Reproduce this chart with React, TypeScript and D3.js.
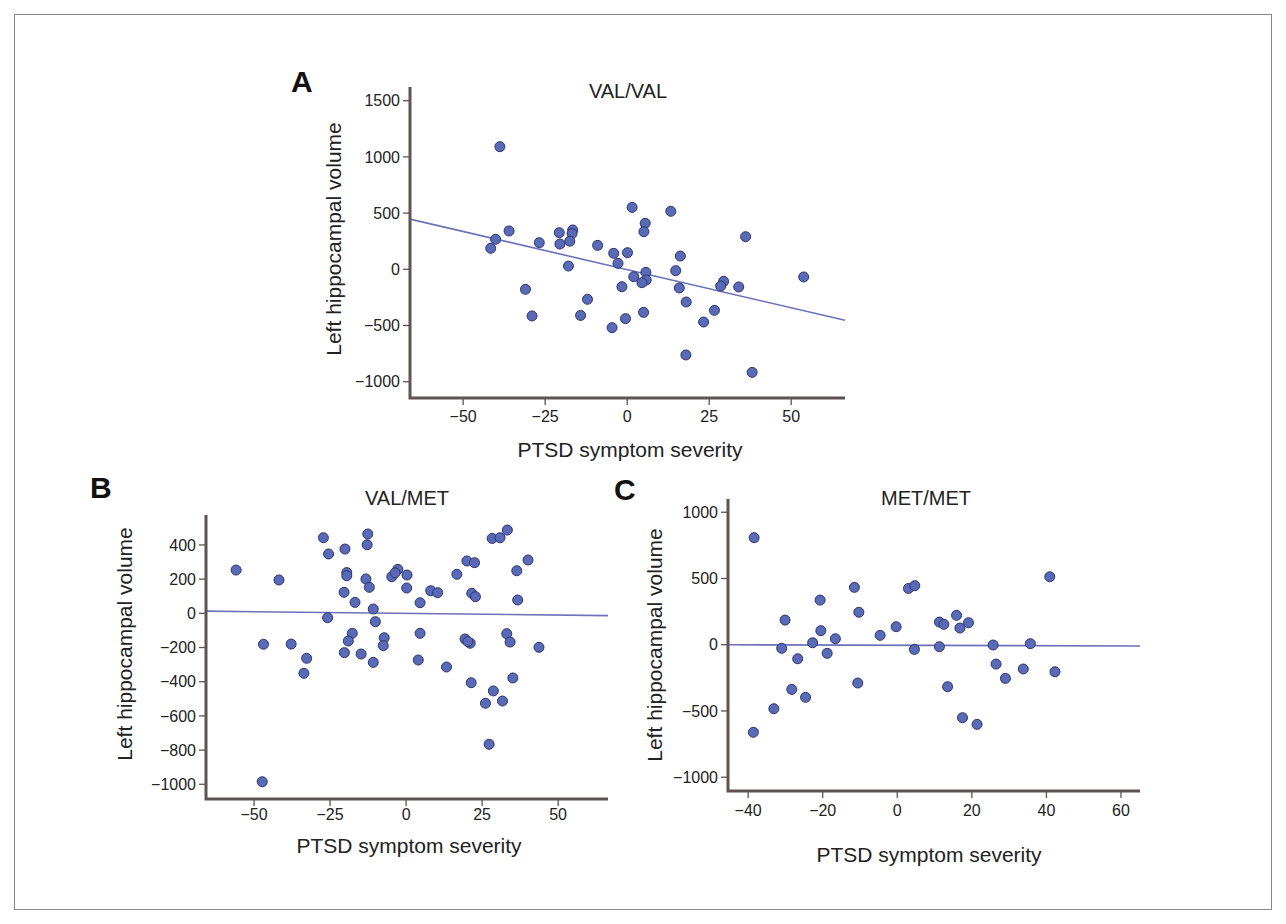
import React from 'react';
import * as d3 from 'd3';

// panel A: VAL/VAL
const valValX = [-38.8, -36.0, -40.1, -41.6, -26.8, -20.7, -20.5, -16.6, -16.8, -17.5, -17.9, -31, -29, -14.2, -9.0, -12.1, -4.1, -2.8, 0.1, 1.5, -1.6, -4.6, -0.5, 2.0, 5.5, 5.1, 5.7, 5.8, 4.5, 5.0, 13.3, 16.2, 14.8, 15.9, 18.0, 17.9, 23.3, 26.6, 29.4, 28.5, 34.0, 36.1, 38.1, 53.8];
const valValY = [1091, 341, 267, 187, 237, 326, 225, 350, 318, 250, 29, -178, -415, -410, 213, -267, 142, 53, 148, 551, -155, -519, -439, -66, 409, 335, -27, -95, -119, -383, 516, 118, -12, -166, -291, -762, -469, -365, -107, -149, -157, 290, -917, -68];
const valValFit = [-3, -6.79]; // intercept, slope

// panel B: VAL/MET
const valMetX = [-55.9, -41.8, -46.9, -37.8, -32.7, -33.6, -47.3, -27.2, -25.5, -25.8, -20.1, -19.5, -19.5, -20.4, -16.8, -17.7, -19.0, -20.3, -14.8, -12.6, -12.8, -13.2, -12.1, -10.8, -10.1, -10.8, -7.2, -7.5, -4.7, -2.7, -3.6, 0.3, 0.2, 4.6, 4.6, 4.0, 8.1, 10.4, 13.3, 16.7, 20.0, 22.5, 21.6, 22.8, 19.4, 21.1, 20.3, 21.4, 26.1, 28.7, 31.7, 27.3, 28.3, 30.9, 33.3, 36.4, 36.7, 40.1, 33.1, 34.2, 35.1, 43.7];
const valMetY = [253, 195, -181, -180, -263, -351, -985, 442, 347, -26, 376, 238, 220, 123, 64, -117, -162, -230, -238, 464, 401, 201, 152, 25, -49, -287, -143, -189, 214, 257, 237, 224, 148, 62, -117, -273, 132, 121, -314, 228, 306, 296, 117, 97, -150, -175, -165, -406, -526, -454, -513, -766, 438, 442, 487, 249, 78, 312, -119, -168, -378, -199];
const valMetFit = [-0.5, -0.2];

// panel C: MET/MET
const metMetX = [-38.4, -38.6, -33.1, -31.0, -30.1, -28.3, -26.7, -24.6, -22.7, -20.7, -20.5, -18.8, -16.6, -11.5, -10.3, -10.6, -4.6, -0.3, 3.0, 4.7, 4.6, 11.3, 12.5, 11.3, 15.9, 16.8, 19.1, 13.5, 17.5, 21.4, 25.7, 26.5, 29.0, 33.8, 35.7, 40.9, 42.3];
const metMetY = [808, -661, -483, -27, 186, -337, -106, -397, 15, 337, 106, -65, 45, 433, 245, -289, 71, 136, 425, 446, -35, 171, 154, -15, 222, 126, 166, -317, -551, -601, -2, -146, -254, -183, 8, 513, -204];
const metMetFit = [-4.1, -0.09];

const xTicksAB = [-50, -25, 0, 25, 50];
const xTicksC = [-40, -20, 0, 20, 40, 60];
const yTicksA = [1500, 1000, 500, 0, -500, -1000];
const yTicksB = [400, 200, 0, -200, -400, -600, -800, -1000];
const yTicksC = [1000, 500, 0, -500, -1000];

const FONT = '"Liberation Sans", Arial, Helvetica, sans-serif';
const AXIS = '#5e5350';
const DOT = '#5b6ab6';
const DOT_EDGE = '#2b3572';
const FIT = '#6c71b8';

const fmt = (v: number) => (v < 0 ? '\u2212' + Math.abs(v) : String(v));

interface PanelProps {
  letter: string;
  title: string;
  xs: number[];
  ys: number[];
  fit: number[];
  xDomain: [number, number];
  yDomain: [number, number];
  xTicks: number[];
  yTicks: number[];
  box: { l: number; r: number; t: number; b: number };
  letterPos: [number, number];
  titlePos: [number, number];
  xLabelPos: [number, number];
  yLabelPos: [number, number];
  tickLabelDy: number;
}

const Panel = (p: PanelProps) => {
  const x = d3.scaleLinear().domain(p.xDomain).range([p.box.l, p.box.r]);
  const y = d3.scaleLinear().domain(p.yDomain).range([p.box.b, p.box.t]);
  const [a, b] = p.fit;
  const fitLine = d3
    .line<number>()
    .x((d) => x(d))
    .y((d) => y(a + b * d));

  return (
    <g>
      <text x={p.letterPos[0]} y={p.letterPos[1]} fontSize={30} fontWeight="bold" fill="#111">
        {p.letter}
      </text>
      <text x={p.titlePos[0]} y={p.titlePos[1]} fontSize={20} textAnchor="middle" fill="#222">
        {p.title}
      </text>

      {/* fit line */}
      <path d={fitLine(p.xDomain) || ''} stroke={FIT} strokeWidth={1.6} fill="none" />

      {/* points */}
      {p.xs.map((d, i) => (
        <circle key={i} cx={x(d)} cy={y(p.ys[i])} r={5} fill={DOT} stroke={DOT_EDGE} strokeWidth={1} />
      ))}

      {/* y axis ticks */}
      {p.yTicks.map((t) => (
        <g key={'y' + t}>
          <line x1={p.box.l - 7} x2={p.box.l} y1={y(t)} y2={y(t)} stroke={AXIS} strokeWidth={1.3} />
          <text x={p.box.l - 10} y={y(t)} dy="0.35em" fontSize={16} textAnchor="end" fill="#222">
            {fmt(t)}
          </text>
        </g>
      ))}

      {/* x axis ticks */}
      {p.xTicks.map((t) => (
        <g key={'x' + t}>
          <line x1={x(t)} x2={x(t)} y1={p.box.b} y2={p.box.b + 7} stroke={AXIS} strokeWidth={1.3} />
          <text x={x(t)} y={p.box.b + p.tickLabelDy} fontSize={16} textAnchor="middle" fill="#222">
            {fmt(t)}
          </text>
        </g>
      ))}

      {/* axis lines */}
      <path
        d={`M${p.box.l},${p.box.t}V${p.box.b}H${p.box.r}`}
        stroke={AXIS}
        strokeWidth={3}
        fill="none"
      />

      <text x={p.xLabelPos[0]} y={p.xLabelPos[1]} fontSize={21} textAnchor="middle" fill="#222">
        PTSD symptom severity
      </text>
      <text
        transform={`translate(${p.yLabelPos[0]},${p.yLabelPos[1]}) rotate(-90)`}
        fontSize={21}
        textAnchor="middle"
        fill="#222"
      >
        Left hippocampal volume
      </text>
    </g>
  );
};

export default function App() {
  return (
    <svg
      width={1286}
      height={924}
      style={{ position: 'absolute', left: 0, top: 0, background: '#fff', fontFamily: FONT }}
    >
      <rect x={14.5} y={14.5} width={1257} height={895} fill="#fff" stroke="#888" strokeWidth={1} />
      <Panel
        letter="A"
        title="VAL/VAL"
        xs={valValX}
        ys={valValY}
        fit={valValFit}
        xDomain={[-66.2, 66.4]}
        yDomain={[-1145, 1622]}
        xTicks={xTicksAB}
        yTicks={yTicksA}
        box={{ l: 410, r: 845, t: 87, b: 398 }}
        letterPos={[291, 92]}
        titlePos={[628, 98]}
        xLabelPos={[630, 457]}
        yLabelPos={[341, 239]}
        tickLabelDy={24}
      />
      <Panel
        letter="B"
        title="VAL/MET"
        xs={valMetX}
        ys={valMetY}
        fit={valMetFit}
        xDomain={[-65.8, 66.4]}
        yDomain={[-1086, 575]}
        xTicks={xTicksAB}
        yTicks={yTicksB}
        box={{ l: 206, r: 608, t: 515, b: 799 }}
        letterPos={[90, 498]}
        titlePos={[407, 505]}
        xLabelPos={[409, 853]}
        yLabelPos={[132, 644]}
        tickLabelDy={21}
      />
      <Panel
        letter="C"
        title="MET/MET"
        xs={metMetX}
        ys={metMetY}
        fit={metMetFit}
        xDomain={[-45.4, 65.1]}
        yDomain={[-1104, 1100]}
        xTicks={xTicksC}
        yTicks={yTicksC}
        box={{ l: 728, r: 1140, t: 499, b: 791 }}
        letterPos={[614, 500]}
        titlePos={[926, 505]}
        xLabelPos={[929, 862]}
        yLabelPos={[662, 645]}
        tickLabelDy={25}
      />
    </svg>
  );
}
